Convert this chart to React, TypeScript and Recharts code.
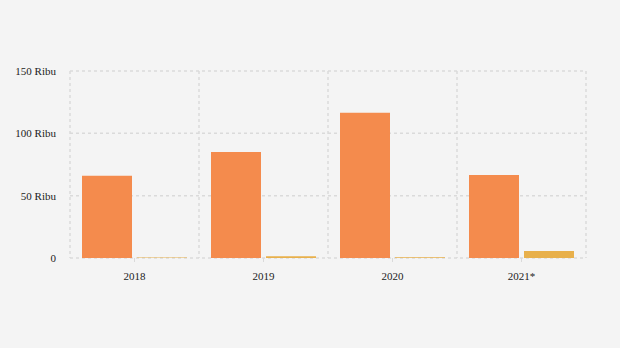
import { BarChart, Bar, XAxis, YAxis, CartesianGrid } from 'recharts';

const YEARS = ['2018', '2019', '2020', '2021*'];
const SERIES_A = [66, 85, 116.5, 66.5];
const SERIES_B = [0.4, 1.5, 0.6, 5.6];
const Y_TICKS = [0, 50, 100, 150];

const data = YEARS.map((year, i) => ({ year, a: SERIES_A[i], b: SERIES_B[i] }));

const fmt = (v: number) => (v === 0 ? '0' : `${v} Ribu`);

const tickStyle = { fill: '#222', fontSize: 11, fontFamily: '"Liberation Serif", serif' };

export default function App() {
  return (
    <div style={{ width: 620, height: 348, background: '#f4f4f4' }}>
      <style>{'body{margin:0;background:#f4f4f4}'}</style>
      <BarChart
        width={620}
        height={348}
        data={data}
        margin={{ top: 71, right: 34, bottom: 60, left: 0 }}
        barCategoryGap={12}
        barGap={5}
      >
        <CartesianGrid
          stroke="#dadada"
          strokeDasharray="3 3"
          strokeWidth={1.5}
          verticalCoordinatesGenerator={({ offset }: any) =>
            [0, 1, 2, 3, 4].map((i) => offset.left + (i * offset.width) / 4)
          }
        />
        <XAxis
          dataKey="year"
          height={30}
          axisLine={false}
          tickSize={4}
          tickMargin={10}
          tickLine={{ stroke: '#dadada' }}
          tick={tickStyle}
        />
        <YAxis
          width={70}
          domain={[0, 150]}
          ticks={Y_TICKS}
          tickFormatter={fmt}
          axisLine={false}
          tickLine={false}
          tickMargin={8}
          tick={tickStyle}
        />
        <Bar dataKey="a" fill="#f48b4d" isAnimationActive={false} />
        <Bar dataKey="b" fill="#e8b04b" isAnimationActive={false} />
      </BarChart>
    </div>
  );
}
